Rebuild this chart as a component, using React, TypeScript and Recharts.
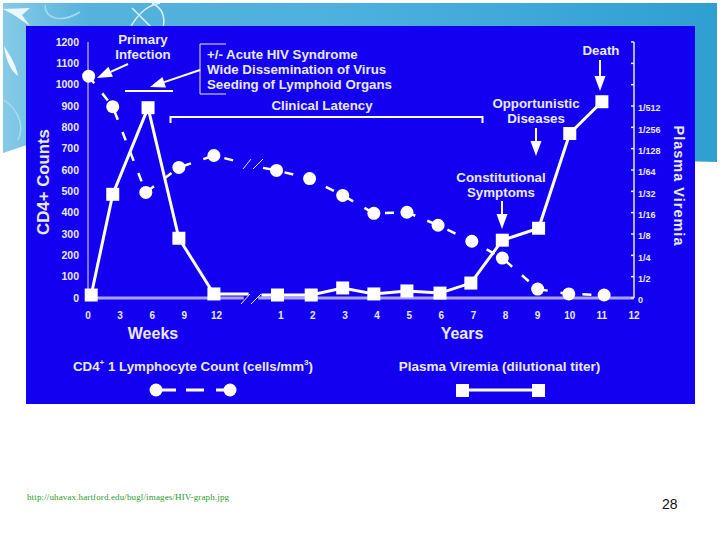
import { Line, LineChart, ReferenceLine, XAxis, YAxis } from "recharts"

const ink = "#e9e9ff"
const plotBlue = "#1400f0"
const axisLilac = "#a9a4ff"
const sans = "'Liberation Sans', Arial, sans-serif"

// x is a slot on the broken axis: 0-4 are weeks, 6-17 are years, 5 is the gap
const slotTicks = [0, 1, 2, 3, 4, 6, 7, 8, 9, 10, 11, 12, 13, 14, 15, 16, 17]
const slotLabels = ["0", "3", "6", "9", "12", "1", "2", "3", "4", "5", "6", "7", "8", "9", "10", "11", "12"]

const countTicks = [0, 100, 200, 300, 400, 500, 600, 700, 800, 900, 1000, 1100, 1200]

const titerTicks = [0, 1, 2, 3, 4, 5, 6, 7, 8, 9, 10, 11, 12]
const titerLabels = ["0", "1/2", "1/4", "1/8", "1/16", "1/32", "1/64", "1/128", "1/256", "1/512", "", "", ""]

// last entry of the weeks lists and first entry of the years lists are the ends of the broken stretch
const cd4WeekSlots = [0.02, 0.77, 1.8, 2.83, 3.92, 4.6]
const cd4WeekCounts = [1040, 897, 495, 612, 668, 642]
const cd4YearSlots = [5.45, 5.87, 6.9, 7.93, 8.9, 9.93, 10.9, 11.95, 12.9, 14.0, 14.97, 16.07]
const cd4YearCounts = [610, 598, 560, 481, 397, 402, 341, 266, 187, 42, 19, 14]

const titerWeekSlots = [0.1, 0.77, 1.87, 2.83, 3.92, 5.0]
const titerWeekValues = [0.14, 4.86, 8.92, 2.8, 0.19, 0.19]
const titerYearSlots = [5.4, 5.9, 6.95, 7.93, 8.9, 9.93, 10.96, 11.92, 12.9, 14.03, 15.0, 16.0]
const titerYearValues = [0.14, 0.14, 0.14, 0.47, 0.19, 0.33, 0.23, 0.7, 2.71, 3.27, 7.71, 9.2]

const toRows = (slots: number[], values: number[]) => slots.map((x, i) => ({ x, y: values[i] }))

function circleDot(skip: number) {
  return (props: any) =>
    props.index === skip ? (
      <g key={props.index} />
    ) : (
      <circle key={props.index} cx={props.cx} cy={props.cy} r={6.5} fill="#ffffff" />
    )
}

function squareDot(skip: number) {
  return (props: any) =>
    props.index === skip ? (
      <g key={props.index} />
    ) : (
      <rect key={props.index} x={props.cx - 6.5} y={props.cy - 6.5} width={13} height={13} fill="#ffffff" />
    )
}

function Arrow({ x1, y1, x2, y2 }: { x1: number; y1: number; x2: number; y2: number }) {
  const a = Math.atan2(y2 - y1, x2 - x1)
  const back = 15
  const half = 5.5
  const bx = x2 - back * Math.cos(a)
  const by = y2 - back * Math.sin(a)
  const nx = -Math.sin(a) * half
  const ny = Math.cos(a) * half
  return (
    <g>
      <line x1={x1} y1={y1} x2={bx} y2={by} stroke="#ffffff" strokeWidth={2} />
      <polygon points={`${x2},${y2} ${bx + nx},${by + ny} ${bx - nx},${by - ny}`} fill="#ffffff" />
    </g>
  )
}

function Label({ x, y, size = 13.3, anchor = "middle", children }: any) {
  return (
    <text x={x} y={y} fontSize={size} fontWeight={700} fontFamily={sans} fill={ink} textAnchor={anchor} dominantBaseline="central">
      {children}
    </text>
  )
}

function Backdrop() {
  return (
    <svg width={720} height={540} style={{ position: "absolute", left: 0, top: 0 }}>
      <defs>
        <linearGradient id="band" x1="0" y1="0" x2="1" y2="0">
          <stop offset="0" stopColor="#86cbe8" />
          <stop offset="0.12" stopColor="#55b2dc" />
          <stop offset="0.5" stopColor="#4cb0de" />
          <stop offset="1" stopColor="#2f9fd2" />
        </linearGradient>
      </defs>
      <path d="M3 3 H717 V162 L640 160 C400 150 200 130 80 134 C50 136 25 146 3 153 Z" fill="url(#band)" />
      <path d="M3 9 L30 8 L22 15 L30 26 L14 15 Z" fill="#ffffff" opacity={0.85} />
      <path d="M4 46 C10 55 16 65 18 76 C10 70 6 60 4 46 Z" fill="#ffffff" opacity={0.9} />
      <path d="M130 28 C140 10 150 5 160 3 M163 28 C166 15 160 7 152 3 M132 8 L152 28" stroke="#d8f2fb" strokeWidth={1.5} fill="none" />
      <path d="M45 5 C45 18 60 24 80 12 M4 100 C18 110 25 125 18 140" stroke="#a7dcf0" strokeWidth={1.5} fill="none" />
      <rect x={26} y={26} width={669} height={378} fill={plotBlue} />
    </svg>
  )
}

function Notes() {
  return (
    <svg width={720} height={540} style={{ position: "absolute", left: 0, top: 0, pointerEvents: "none" }}>
      <Label x={143} y={39}>Primary</Label>
      <Label x={143} y={54}>Infection</Label>
      <Arrow x1={128} y1={64} x2={97} y2={78} />

      <path d="M226 44 H200 V94 H226" stroke={ink} strokeWidth={1} fill="none" />
      <Label x={207} y={54} anchor="start">+/- Acute HIV Syndrome</Label>
      <Label x={207} y={69} anchor="start">Wide Dissemination of Virus</Label>
      <Label x={207} y={84} anchor="start">Seeding of Lymphoid Organs</Label>
      <Arrow x1={200} y1={70} x2={150} y2={87} />
      <line x1={125} y1={91} x2={173} y2={91} stroke="#ffffff" strokeWidth={2} />

      <Label x={322} y={105}>Clinical Latency</Label>
      <path d="M170.5 123 V117 H482.5 V123" stroke="#ffffff" strokeWidth={2} fill="none" />

      <Label x={536} y={103}>Opportunistic</Label>
      <Label x={536} y={118}>Diseases</Label>
      <Arrow x1={536} y1={128} x2={536} y2={156} />

      <Label x={501} y={177}>Constitutional</Label>
      <Label x={501} y={192}>Symptoms</Label>
      <Arrow x1={502} y1={201} x2={502} y2={229} />

      <Label x={601} y={50}>Death</Label>
      <Arrow x1={600} y1={60} x2={600} y2={91} />

      <path d="M243 169 L251 159 M253 169 L263 159" stroke={ink} strokeWidth={1} fill="none" />
      <path d="M241 304 L250 294 M251 304 L261 294" stroke={ink} strokeWidth={1} fill="none" />

      <Label x={153} y={333} size={16}>Weeks</Label>
      <Label x={462} y={333} size={16}>Years</Label>

      <text x={43} y={182} fontSize={16.8} fontWeight={700} fontFamily={sans} fill={ink} textAnchor="middle" dominantBaseline="central" transform="rotate(-90 43 182)">
        CD4+ Counts
      </text>
      <text x={679} y={186} fontSize={14.5} fontWeight={700} fontFamily={sans} fill={ink} textAnchor="middle" dominantBaseline="central" letterSpacing={1} transform="rotate(90 679 186)">
        Plasma Viremia
      </text>

      <text x={73} y={366} fontSize={13.3} fontWeight={700} fontFamily={sans} fill={ink} dominantBaseline="central">
        CD4<tspan dy={-4} fontSize={8}>+</tspan><tspan dy={4}> 1 Lymphocyte Count (cells/mm</tspan><tspan dy={-4} fontSize={8}>3</tspan><tspan dy={4}>)</tspan>
      </text>
      <Label x={499.5} y={366} size={13.5}>Plasma Viremia (dilutional titer)</Label>

      <circle cx={156} cy={390} r={6.5} fill="#ffffff" />
      <circle cx={230} cy={390} r={6.5} fill="#ffffff" />
      <path d="M156 390 H176 M186 390 H204 M216 390 H230" stroke="#ffffff" strokeWidth={3} />
      <rect x={456} y={384} width={13} height={13} fill="#ffffff" />
      <rect x={532} y={384} width={13} height={13} fill="#ffffff" />
      <line x1={462} y1={390} x2={538} y2={390} stroke="#ffffff" strokeWidth={3} />

      <text x={27} y={500} fontSize={9} fontFamily="'Liberation Serif', serif" fill="#2c9c2c" textLength={202}>
        http://uhavax.hartford.edu/bugl/images/HIV-graph.jpg
      </text>
      <text x={662} y={509} fontSize={14} fontFamily={sans} fill="#111111">28</text>
    </svg>
  )
}

export default function App() {
  return (
    <div style={{ position: "absolute", left: 0, top: 0, width: 720, height: 540, background: "#ffffff", overflow: "hidden" }}>
      <Backdrop />
      <div style={{ position: "absolute", left: 0, top: 0 }}>
        <LineChart width={720} height={540} margin={{ top: 42, right: 40, bottom: 212, left: 38 }}>
          <XAxis
            type="number"
            dataKey="x"
            domain={[0, 17]}
            ticks={slotTicks}
            interval={0}
            tickFormatter={(v: number) => slotLabels[slotTicks.indexOf(v)]}
            axisLine={false}
            tickLine={false}
            tickSize={0}
            tickMargin={14}
            height={30}
            tick={{ fill: ink, fontSize: 10, fontWeight: 700, fontFamily: sans }}
          />
          <YAxis
            yAxisId="counts"
            type="number"
            domain={[0, 1200]}
            ticks={countTicks}
            interval={0}
            width={50}
            axisLine={{ stroke: ink, strokeWidth: 1 }}
            tickLine={false}
            tickSize={0}
            tickMargin={9}
            tick={{ fill: ink, fontSize: 10.5, fontWeight: 700, fontFamily: sans }}
          />
          <YAxis
            yAxisId="titer"
            orientation="right"
            type="number"
            domain={[0, 12]}
            ticks={titerTicks}
            interval={0}
            width={46}
            tickFormatter={(v: number) => titerLabels[v]}
            axisLine={{ stroke: ink, strokeWidth: 1.5 }}
            tickLine={{ stroke: ink, strokeWidth: 1.5 }}
            tickSize={-3}
            tickMargin={7}
            tick={{ fill: ink, fontSize: 9, fontWeight: 700, fontFamily: sans, dy: 2 }}
          />
          <ReferenceLine yAxisId="counts" segment={[{ x: 0, y: 0 }, { x: 4.85, y: 0 }]} stroke={axisLilac} strokeWidth={3} />
          <ReferenceLine yAxisId="counts" segment={[{ x: 5.3, y: 0 }, { x: 17, y: 0 }]} stroke={axisLilac} strokeWidth={3} />
          <Line
            yAxisId="counts"
            data={toRows(cd4WeekSlots, cd4WeekCounts)}
            dataKey="y"
            stroke="#ffffff"
            strokeWidth={2.5}
            strokeDasharray="9 13"
            dot={circleDot(cd4WeekSlots.length - 1)}
            isAnimationActive={false}
          />
          <Line
            yAxisId="counts"
            data={toRows(cd4YearSlots, cd4YearCounts)}
            dataKey="y"
            stroke="#ffffff"
            strokeWidth={2.5}
            strokeDasharray="9 13"
            dot={circleDot(0)}
            isAnimationActive={false}
          />
          <Line
            yAxisId="titer"
            data={toRows(titerWeekSlots, titerWeekValues)}
            dataKey="y"
            stroke="#ffffff"
            strokeWidth={3}
            dot={squareDot(titerWeekSlots.length - 1)}
            isAnimationActive={false}
          />
          <Line
            yAxisId="titer"
            data={toRows(titerYearSlots, titerYearValues)}
            dataKey="y"
            stroke="#ffffff"
            strokeWidth={3}
            dot={squareDot(0)}
            isAnimationActive={false}
          />
        </LineChart>
      </div>
      <Notes />
    </div>
  )
}
